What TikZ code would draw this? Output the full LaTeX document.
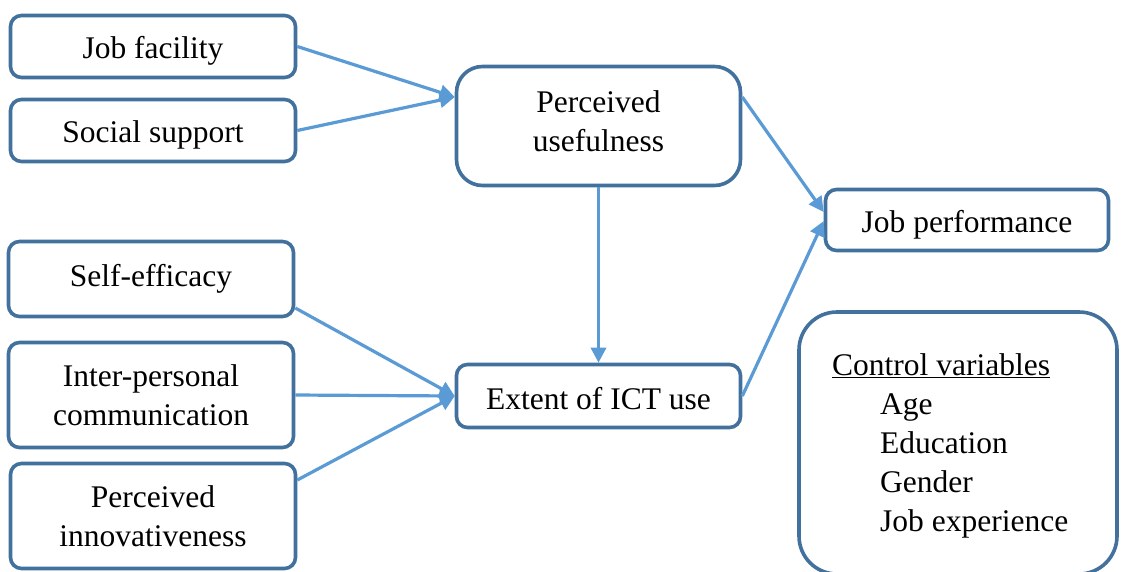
\documentclass[tikz,border=0pt]{standalone}
\usepackage{fontspec}
\setmainfont{Liberation Serif}
\usetikzlibrary{arrows.meta}
\definecolor{bordc}{HTML}{41719C}
\definecolor{arrc}{HTML}{5B9BD5}
\newcommand{\bigfs}{\fontsize{31.5}{38.5}\selectfont}
\begin{document}
\begin{tikzpicture}[x=1pt,y=-1pt,
  box/.style={draw=bordc, line width=3.6pt, rounded corners=11pt, fill=white,
    align=center, inner sep=0pt, font=\bigfs},
  oneline/.style={text height=30pt, text depth=6pt},
  conn/.style={draw=arrc, line width=3.2pt, -{Triangle[length=15pt,width=15pt]}}]
\clip (0,0) rectangle (1121,571);
\fill[white] (0,0) rectangle (1121,571);
% left column
\node[box, oneline, minimum width=285pt, minimum height=62pt] (jf) at (153,46.5) {Job facility};
\node[box, oneline, minimum width=285pt, minimum height=62pt] (ss) at (153,130.5) {Social support};
\node[box, minimum width=285pt, minimum height=75pt] (se) at (151,279) {Self-efficacy};
\node[box, minimum width=285pt, minimum height=105pt] (ip) at (151,395) {Inter-personal\\communication};
\node[box, minimum width=285pt, minimum height=105pt] (pi) at (153,516) {Perceived\\innovativeness};
% middle
\node[box, rounded corners=26pt, text depth=10pt, minimum width=284pt, minimum height=119pt] (pu) at (598.5,126) {Perceived\\usefulness};
\node[box, text height=30pt, text depth=4pt, minimum width=284pt, minimum height=63pt] (ict) at (598.5,396) {Extent of ICT use};
% right
\node[box, oneline, minimum width=283pt, minimum height=61pt] (jp) at (967,220) {Job performance};
\node[box, rounded corners=38pt, minimum width=318pt, minimum height=262pt] (ctrl) at (958,443) {};
\node[anchor=base west, align=left, inner sep=0pt, font=\bigfs] (ctrltext) at (832,531)
  {\underline{Control variables}\\[0.5pt]\hspace{48pt}Age\\[0.5pt]\hspace{48pt}Education\\[0.5pt]\hspace{48pt}Gender\\[0.5pt]\hspace{48pt}Job experience};
% connectors
\draw[conn] (jf.east) -- ([yshift=29pt]pu.west);
\draw[conn] (ss.east) -- ([yshift=29pt]pu.west);
\draw[conn] ([yshift=29pt]pu.east) -- ([yshift=8pt]jp.west);
\draw[conn] (ict.east) -- ([yshift=-1pt]jp.west);
\draw[conn] (pu.south) -- (ict.north);
\draw[conn] ([yshift=-29pt]se.east) -- (ict.west);
\draw[conn] (ip.east) -- (ict.west);
\draw[conn] ([yshift=36pt]pi.east) -- (ict.west);
\end{tikzpicture}
\end{document}
